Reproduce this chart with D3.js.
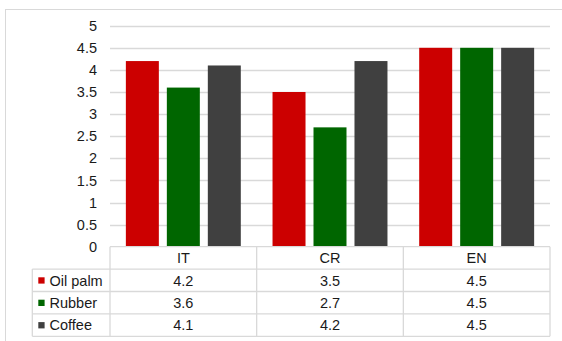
<!DOCTYPE html>
<html><head><meta charset="utf-8">
<script src="https://cdn.jsdelivr.net/npm/d3@7"></script>
<style>body{margin:0;background:#fff;} svg{display:block;font-family:"Liberation Sans",Arial,sans-serif;}</style>
</head><body><svg id="c" width="562" height="341"></svg>
<script>
const categories = ["IT", "CR", "EN"];
const seriesNames = ["Oil palm", "Rubber", "Coffee"];
const oilPalm = [4.2, 3.5, 4.5];
const rubber = [3.6, 2.7, 4.5];
const coffee = [4.1, 4.2, 4.5];
const yTicks = [0, 0.5, 1, 1.5, 2, 2.5, 3, 3.5, 4, 4.5, 5];
const colors = ["#CC0000", "#006600", "#404040"];
const series = [oilPalm, rubber, coffee];

(function () {
const svg = d3.select("#c");
const pLeft = 110, pRight = 550, pTop = 25.7, pBottom = 246.7;
const rowH = 22.4;
const fontSize = 14.5;
const txt = "#1a1a1a";

svg.append("rect").attr("x", 5.5).attr("y", 9.5).attr("width", 570).attr("height", 345)
  .attr("fill", "none").attr("stroke", "#d9d9d9").attr("stroke-width", 1);

const y = d3.scaleLinear().domain([0, 5]).range([pBottom, pTop]);
const x0 = d3.scaleBand().domain(categories).range([pLeft, pRight]).paddingInner(0).paddingOuter(0);
const x1 = d3.scaleBand().domain(seriesNames).range([0, x0.bandwidth()]).paddingInner(0.195).paddingOuter(0.387);

svg.append("g").selectAll("line").data(yTicks.filter(d => d > 0)).join("line")
  .attr("x1", pLeft).attr("x2", pRight)
  .attr("y1", d => Math.round(y(d)) + 0.5).attr("y2", d => Math.round(y(d)) + 0.5)
  .attr("stroke", "#d9d9d9").attr("stroke-width", 1.3);

const yAxis = d3.axisLeft(y).tickValues(yTicks).tickSize(0).tickPadding(0).tickFormat(d3.format("~g"));
const ga = svg.append("g").attr("transform", `translate(97,0)`).call(yAxis);
ga.attr("font-size", fontSize).attr("font-family", "Liberation Sans, Arial, sans-serif");
ga.select(".domain").remove();
ga.selectAll("text").attr("font-size", fontSize).attr("fill", txt);

categories.forEach((c, ci) => {
  series.forEach((s, si) => {
    svg.append("rect")
      .attr("x", x0(c) + x1(seriesNames[si]))
      .attr("y", y(s[ci]))
      .attr("width", x1.bandwidth())
      .attr("height", y(0) - y(s[ci]))
      .attr("fill", colors[si]);
  });
});

const tbl = svg.append("g");
const lc = "#d9d9d9";
const tableLeft = 32.3;
for (let r = 0; r <= 4; r++) {
  const yy = pBottom + r * rowH;
  tbl.append("line").attr("x1", r === 0 ? pLeft : tableLeft).attr("x2", pRight)
    .attr("y1", yy).attr("y2", yy).attr("stroke", lc).attr("stroke-width", 1.3);
}
tbl.append("line").attr("x1", tableLeft).attr("x2", tableLeft).attr("y1", pBottom + rowH).attr("y2", pBottom + 4 * rowH).attr("stroke", lc).attr("stroke-width", 1.3);
[pLeft, ...categories.map(c => x0(c) + x0.bandwidth())].forEach(xx => {
  tbl.append("line").attr("x1", xx).attr("x2", xx).attr("y1", pBottom).attr("y2", pBottom + 4 * rowH).attr("stroke", lc).attr("stroke-width", 1.3);
});
categories.forEach(c => {
  tbl.append("text").attr("x", x0(c) + x0.bandwidth() / 2).attr("y", pBottom + rowH / 2)
    .attr("dy", "0.36em").attr("text-anchor", "middle").attr("font-size", fontSize).attr("fill", txt).text(c);
});
seriesNames.forEach((n, si) => {
  const cy = pBottom + (si + 1.5) * rowH;
  tbl.append("rect").attr("x", 38.3).attr("y", cy - 3).attr("width", 6.3).attr("height", 6.3).attr("fill", colors[si]);
  tbl.append("text").attr("x", 49.5).attr("y", cy).attr("dy", "0.36em").attr("font-size", fontSize).attr("fill", txt).text(n);
  categories.forEach((c, ci) => {
    tbl.append("text").attr("x", x0(c) + x0.bandwidth() / 2).attr("y", cy).attr("dy", "0.36em")
      .attr("text-anchor", "middle").attr("font-size", fontSize).attr("fill", txt).text(d3.format(".1f")(series[si][ci]));
  });
});
})();
</script></body></html>
